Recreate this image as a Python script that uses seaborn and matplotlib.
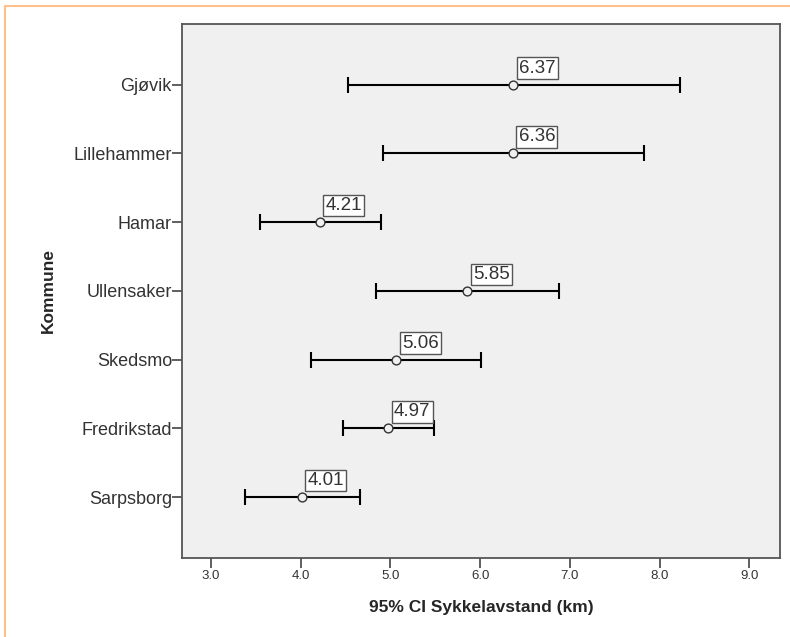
import numpy as np
import pandas as pd
import matplotlib
matplotlib.use('Agg')
import matplotlib.pyplot as plt
from matplotlib.patches import Rectangle
import seaborn as sns

kommune = ['Gjøvik', 'Lillehammer', 'Hamar', 'Ullensaker', 'Skedsmo', 'Fredrikstad', 'Sarpsborg']
mean_km = [6.37, 6.36, 4.21, 5.85, 5.06, 4.97, 4.01]
ci_low = [4.53, 4.92, 3.55, 4.84, 4.12, 4.47, 3.38]
ci_high = [8.23, 7.82, 4.89, 6.88, 6.01, 5.48, 4.66]
x_ticks = [3.0, 4.0, 5.0, 6.0, 7.0, 8.0, 9.0]

df = pd.DataFrame({'Kommune': kommune, 'mean': mean_km, 'lo': ci_low, 'hi': ci_high})

sns.set_style('white')
plt.rcParams['font.family'] = ['Liberation Sans', 'DejaVu Sans']

fig = plt.figure(figsize=(7.9, 6.37), dpi=100)
ax = fig.add_axes([181.7 / 790, 1 - 557.7 / 637, (780 - 181.7) / 790, (557.7 - 24) / 637])
ax.set_facecolor('#F0F0F0')

# y-positions of the categories (top to bottom)
pos = np.arange(len(df))
xerr = [df['mean'] - df['lo'], df['hi'] - df['mean']]
ax.errorbar(df['mean'], pos, xerr=xerr, fmt='none', ecolor='black',
            elinewidth=1.5, capsize=6, capthick=1.5, zorder=2)

sns.scatterplot(x=df['mean'], y=pos, ax=ax, marker='o', s=40,
                facecolor='#F0F0F0', edgecolor='#333333', linewidth=1.0, zorder=3)

for m, p in zip(df['mean'], pos):
    ax.annotate(f'{m:.2f}', xy=(m, p), xytext=(6, 8), textcoords='offset pixels',
                ha='left', va='bottom', fontsize=13.5, color='#333333',
                bbox=dict(boxstyle='square,pad=0.12', fc='white', ec='#555555', lw=1),
                zorder=4)

ax.set_xlim(2.674, 9.34)
ax.set_ylim(6.88, -0.88)
ax.set_yticks(pos)
ax.set_yticklabels(df['Kommune'], fontsize=13, color='#333333')
ax.set_xticks(x_ticks)
ax.set_xticklabels([f'{t:.1f}' for t in x_ticks], fontsize=9.5, color='#333333')
ax.tick_params(axis='y', length=7, width=1.2, color='#444444', pad=0, direction='out', left=True)
ax.tick_params(axis='x', length=7, width=1.2, color='#444444', pad=2, direction='out', bottom=True)

for s in ax.spines.values():
    s.set_color('#555555')
    s.set_linewidth(1.3)

ax.set_xlabel('95% CI Sykkelavstand (km)', fontsize=12.5, fontweight='bold', labelpad=13)
ax.set_ylabel('Kommune', fontsize=12.5, fontweight='bold', labelpad=13)

# light orange frame around the figure
fig.patches.append(Rectangle((5 / 790, -0.05), 1.1, 1 - 6 / 637 + 0.05, transform=fig.transFigure,
                             fill=False, ec='#FFC08C', lw=1.5))

fig.savefig('out.png', dpi=100)
